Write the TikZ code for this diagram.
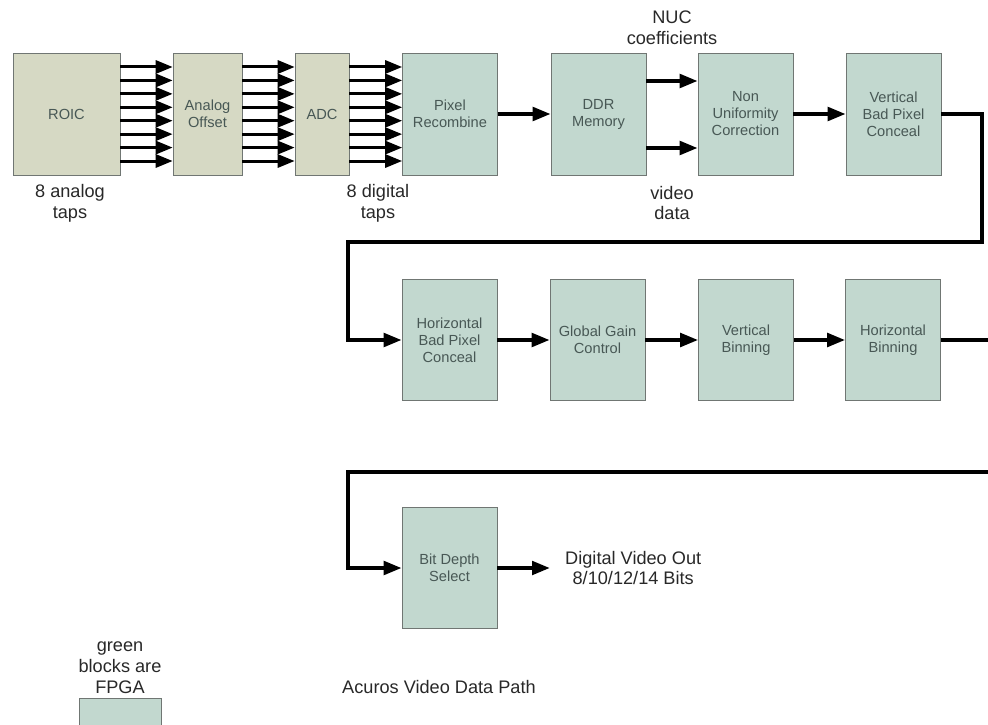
\documentclass[tikz,border=0pt]{standalone}
\usepackage{fontspec}
\setmainfont{Liberation Sans}
\usepackage{xcolor}
\usepackage{tikz}
\usetikzlibrary{arrows.meta, calc, positioning}
\definecolor{sensorbeige}{RGB}{214,217,196}
\definecolor{fpgagreen}{RGB}{194,216,207}
\definecolor{edgegray}{RGB}{112,118,115}
\definecolor{boxtext}{RGB}{72,88,85}
\definecolor{labeltext}{RGB}{40,40,40}

\begin{document}
\begin{tikzpicture}[x=0.3mm, y=-0.3mm,
    block/.style={draw=edgegray, line width=0.5pt, text=boxtext, align=center,
        inner sep=0pt, font=\fontsize{12.5}{14.5}\selectfont},
    analog/.style={block, fill=sensorbeige, minimum height=36.6mm},
    fpga/.style={block, fill=fpgagreen, minimum width=28.5mm, minimum height=36.3mm},
    lbl/.style={align=center, text=labeltext, inner sep=0pt,
        font=\fontsize{15.5}{17.8}\selectfont},
    tap/.style={line width=0.9mm, -{Triangle[length=5.1mm, width=3.9mm]}},
    flow/.style={line width=1.2mm, -{Triangle[length=5.4mm, width=4mm]}},
    wire/.style={line width=1.2mm}]

    \useasboundingbox (0,0) rectangle (988,724);

    % First row: sensor side and front of the FPGA
    \node[analog, minimum width=32.1mm] (ROIC) at (66.5,114) {ROIC};
    \node[analog, minimum width=20.7mm] (AO) at (207.5,114) {Analog\\Offset};
    \node[analog, minimum width=16.2mm] (ADC) at (322,114) {ADC};
    \node[fpga, minimum height=36.6mm] (PR) at (450,114) {Pixel\\Recombine};
    \node[fpga, minimum height=36.6mm] (DDR) at (598.5,114) {DDR\\Memory};
    \node[fpga, minimum height=36.6mm] (NUC) at (745.5,114) {Non\\Uniformity\\Correction};
    \node[fpga, minimum height=36.6mm] (VBPC) at (893.5,114) {Vertical\\Bad Pixel\\Conceal};

    % Second row
    \node[fpga] (HBPC) at (449.5,340) {Horizontal\\Bad Pixel\\Conceal};
    \node[fpga] (GGC) at (597.5,340) {Global Gain\\Control};
    \node[fpga] (VB) at (746,340) {Vertical\\Binning};
    \node[fpga] (HB) at (893,340) {Horizontal\\Binning};

    % Third row
    \node[fpga] (BDS) at (449.5,568) {Bit Depth\\Select};
    \node[lbl, anchor=west, inner xsep=4.5mm] (dvout) at (550,568)
        {Digital Video Out\\8/10/12/14 Bits};

    % Labels
    \node[lbl] (analogtaps) at (70,203) {8 analog\\taps};
    \node[lbl] (digitaltaps) at (378,203) {8 digital\\taps};
    \node[lbl] (nuccoef) at (672,28) {NUC\\coefficients};
    \node[lbl] (videodata) at (672,203) {video\\data};

    % Eight parallel taps
    \foreach \a/\b in {ROIC/AO, AO/ADC, ADC/PR} {
        \foreach \k in {0,...,7} {
            \draw[tap] ($(\a.east)+(0,{-47+13.43*\k})$) -- ($(\b.west)+(0,{-47+13.43*\k})$);
        }
    }

    % Single data path
    \draw[flow] (PR) -- (DDR);
    \draw[flow] ($(DDR.east)+(0,-33)$) -- ($(NUC.west)+(0,-33)$);
    \draw[flow] ($(DDR.east)+(0,34)$) -- ($(NUC.west)+(0,34)$);
    \draw[flow] (NUC) -- (VBPC);

    \coordinate (bendA) at (982,242);
    \coordinate (bendB) at (348,242);
    \draw[flow] (VBPC.east) -| (bendA) -- (bendB) |- (HBPC.west);

    \draw[flow] (HBPC) -- (GGC);
    \draw[flow] (GGC) -- (VB);
    \draw[flow] (VB) -- (HB);

    \coordinate (exitB) at (995,340);
    \draw[wire] (HB.east) -- (exitB);

    \coordinate (enterC) at (995,472);
    \coordinate (bendC) at (348,472);
    \draw[flow] (enterC) -- (bendC) |- (BDS.west);

    \draw[flow] (BDS.east) -- (dvout.west);

    % Legend and title
    \node[lbl] (legendtext) at (120,668) {green\\blocks are\\FPGA};
    \node[block, fill=fpgagreen, minimum width=24.6mm, minimum height=13.5mm,
        anchor=north] (legendbox) at (120,698) {};
    \node[lbl, anchor=west] (title) at (342,687) {Acuros Video Data Path};
\end{tikzpicture}
\end{document}
